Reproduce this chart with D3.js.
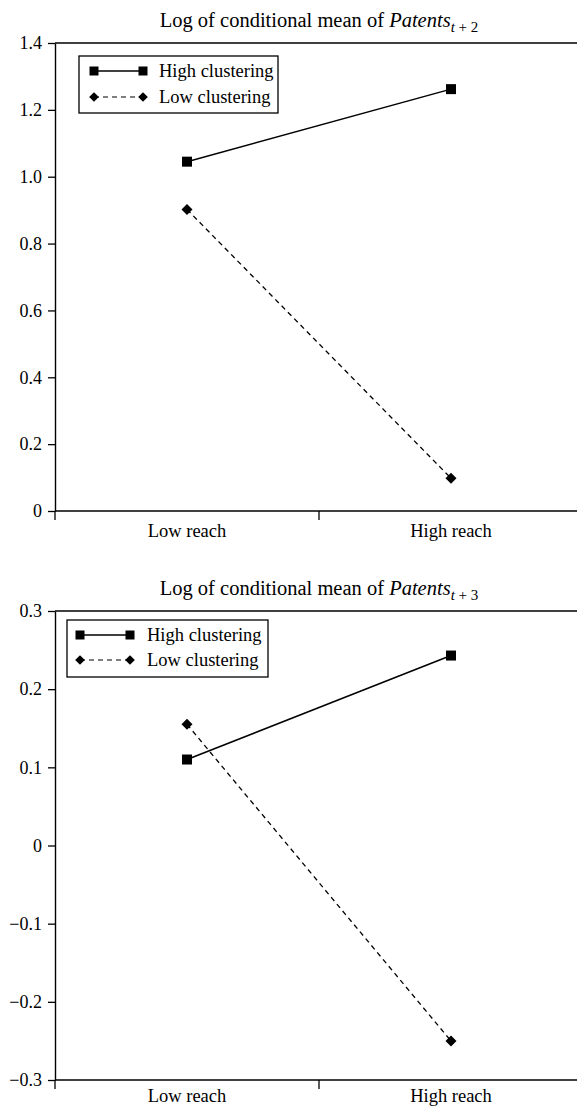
<!DOCTYPE html>
<html>
<head>
<meta charset="utf-8">
<script src="https://cdn.jsdelivr.net/npm/d3@7"></script>
<style>
  body { margin: 0; background: #fff; }
  svg { display: block; font-family: "Liberation Serif", "Times New Roman", serif; }
</style>
</head>
<body>
<div id="chart"></div>
<script>
// categories on the x axis
const categories = ["Low reach", "High reach"]
const seriesNames = ["High clustering", "Low clustering"]

// top panel: Patents t+2
const highClusteringT2 = [1.045, 1.262]
const lowClusteringT2 = [0.902, 0.098]
const ticksT2 = [0, 0.2, 0.4, 0.6, 0.8, 1.0, 1.2, 1.4]

// bottom panel: Patents t+3
const highClusteringT3 = [0.110, 0.243]
const lowClusteringT3 = [0.155, -0.250]
const ticksT3 = [-0.3, -0.2, -0.1, 0, 0.1, 0.2, 0.3]

const width = 577, height = 1108
const serif = "Liberation Serif, Times New Roman, serif"

const svg = d3.select("#chart").append("svg")
  .attr("width", width)
  .attr("height", height)

const diamond = d3.symbol().type(d3.symbolDiamond2)

// 0 stays "0", negatives get a real minus sign
function fmt(d) {
  if (d === 0) return "0"
  return (d < 0 ? "\u2212" : "") + d3.format(".1f")(Math.abs(d))
}

function drawPanel(opts) {
  const {top, bottom, left, right, domain, ticks, high, low, sub, legend, labelY} = opts
  const g = svg.append("g")

  const x = d3.scaleBand().domain(categories).range([left, right]).padding(0)
  const y = d3.scaleLinear().domain(domain).range([bottom, top])

  // title
  const title = g.append("text")
    .attr("x", (left + right) / 2)
    .attr("y", top - 16)
    .attr("text-anchor", "middle")
    .attr("font-size", 20.5)
  title.append("tspan").text("Log of conditional mean of ")
  title.append("tspan").attr("font-style", "italic").text("Patents")
  const s = title.append("tspan").attr("font-size", 15).attr("dy", 5)
  s.append("tspan").attr("font-style", "italic").text("t")
  s.append("tspan").text(" + " + sub)

  // y axis
  const yAxis = g.append("g")
    .attr("transform", `translate(${left},0)`)
    .call(d3.axisLeft(y).tickValues(ticks).tickFormat(fmt).tickSize(7).tickSizeOuter(0).tickPadding(6))
    .attr("font-family", serif)
    .attr("font-size", 18)
  yAxis.select(".domain").attr("stroke-width", 1.4)
  yAxis.selectAll(".tick line").attr("stroke-width", 1.3)
  yAxis.selectAll(".tick text").attr("fill", "#000")

  // top frame line
  g.append("line")
    .attr("x1", left).attr("x2", right)
    .attr("y1", top).attr("y2", top)
    .attr("stroke", "#000").attr("stroke-width", 1.4)

  // x axis: band boundaries as ticks, labels at band centres
  const bounds = categories.map(c => x(c)).concat([x(categories[categories.length - 1]) + x.bandwidth()])
  const xAxis = g.append("g").attr("transform", `translate(0,${bottom})`)
  xAxis.append("line")
    .attr("x1", left).attr("x2", right)
    .attr("stroke", "#000").attr("stroke-width", 1.4)
  xAxis.selectAll(".bt")
    .data(bounds)
    .join("line")
      .attr("class", "bt")
      .attr("x1", d => d).attr("x2", d => d)
      .attr("y1", 0).attr("y2", 9)
      .attr("stroke", "#000").attr("stroke-width", 1.3)
  xAxis.selectAll(".lbl")
    .data(categories)
    .join("text")
      .attr("class", "lbl")
      .attr("x", d => x(d) + x.bandwidth() / 2)
      .attr("y", labelY)
      .attr("text-anchor", "middle")
      .attr("font-size", 18.5)
      .text(d => d)

  const cx = d => x(d) + x.bandwidth() / 2
  const line = d3.line().x(d => cx(d.c)).y(d => y(d.v))
  const highPts = categories.map((c, i) => ({c, v: high[i]}))
  const lowPts = categories.map((c, i) => ({c, v: low[i]}))

  g.append("path")
    .attr("d", line(lowPts))
    .attr("fill", "none").attr("stroke", "#000")
    .attr("stroke-width", 1.3).attr("stroke-dasharray", "5,4")
  g.append("path")
    .attr("d", line(highPts))
    .attr("fill", "none").attr("stroke", "#000")
    .attr("stroke-width", 1.5)

  g.selectAll(".sq")
    .data(highPts)
    .join("rect")
      .attr("class", "sq")
      .attr("x", d => cx(d.c) - 5).attr("y", d => y(d.v) - 5)
      .attr("width", 10).attr("height", 10)
      .attr("fill", "#000")
  g.selectAll(".dm")
    .data(lowPts)
    .join("path")
      .attr("class", "dm")
      .attr("d", diamond.size(78))
      .attr("transform", d => `translate(${cx(d.c)},${y(d.v)})`)
      .attr("fill", "#000")

  // legend
  const lg = g.append("g").attr("transform", `translate(${legend.x},${legend.y})`)
  lg.append("rect")
    .attr("width", legend.w).attr("height", legend.h)
    .attr("fill", "#fff").attr("stroke", "#000").attr("stroke-width", 1.3)
  const rows = lg.selectAll(".row")
    .data(seriesNames)
    .join("g")
      .attr("class", "row")
      .attr("transform", (d, i) => `translate(0,${legend.row0 + i * legend.rowGap})`)
  rows.append("line")
    .attr("x1", legend.s0).attr("x2", legend.s1)
    .attr("stroke", "#000")
    .attr("stroke-width", (d, i) => i === 0 ? 1.4 : 1.2)
    .attr("stroke-dasharray", (d, i) => i === 0 ? null : "5,4")
  rows.each(function(d, i) {
    const r = d3.select(this)
    for (const px of [legend.s0, legend.s1]) {
      if (i === 0) {
        r.append("rect").attr("x", px - 4.5).attr("y", -4.5).attr("width", 9).attr("height", 9).attr("fill", "#000")
      } else {
        r.append("path").attr("d", diamond.size(60)).attr("transform", `translate(${px},0)`).attr("fill", "#000")
      }
    }
  })
  rows.append("text")
    .attr("x", legend.tx)
    .attr("dy", "0.33em")
    .attr("font-size", 18.5)
    .text(d => d)
}

drawPanel({
  top: 43, bottom: 511, left: 55, right: 583, labelY: 26,
  domain: [0, 1.4], ticks: ticksT2,
  high: highClusteringT2, low: lowClusteringT2, sub: "2",
  legend: {x: 79, y: 56, w: 199, h: 57, row0: 15, rowGap: 26, s0: 15, s1: 64, tx: 80}
})

drawPanel({
  top: 611, bottom: 1080, left: 55, right: 583, labelY: 22,
  domain: [-0.3, 0.3], ticks: ticksT3,
  high: highClusteringT3, low: lowClusteringT3, sub: "3",
  legend: {x: 67, y: 620, w: 201, h: 57, row0: 15, rowGap: 25, s0: 13, s1: 63, tx: 80}
})
</script>
</body>
</html>
